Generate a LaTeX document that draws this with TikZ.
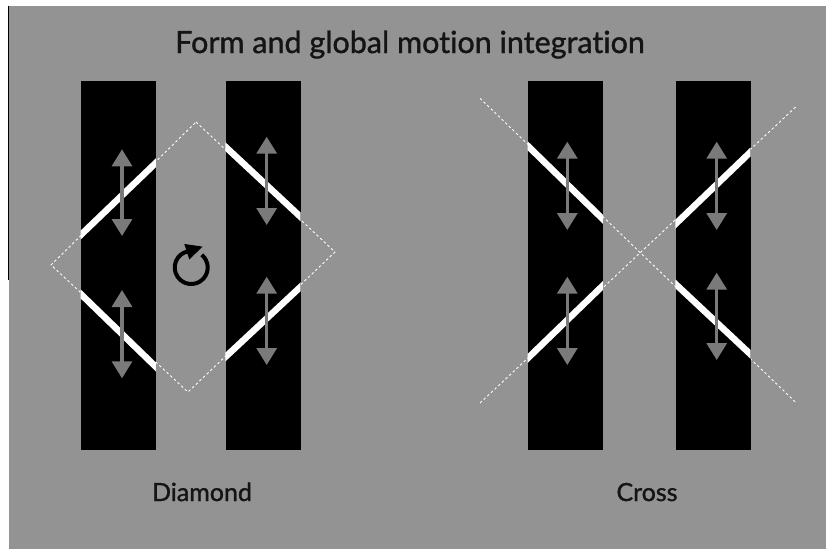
\documentclass[tikz,border=0pt]{standalone}
\usepackage{fontspec}
\setmainfont{Lato}[Ligatures=NoCommon,FakeBold=1.2]
\usetikzlibrary{arrows.meta}
\definecolor{bggray}{RGB}{147,147,147}
\definecolor{arrgray}{RGB}{122,122,122}
\begin{document}
\begin{tikzpicture}[x=1pt,y=-1pt,
  bar/.style={fill=black,draw=none,inner sep=0pt,minimum width=75pt,minimum height=369pt},
  band/.style={white,line width=6.5pt,shorten <=-6pt,shorten >=-6pt},
  guide/.style={white,line width=0.9pt,dash pattern=on 2.5pt off 2.5pt},
  motion/.style={arrgray,line width=3.3pt,{Triangle[length=17pt,width=20pt]}-{Triangle[length=17pt,width=20pt]}},
  rot/.style={black,line width=4pt,-{Triangle[length=17pt,width=15pt]}},
  title/.style={font=\fontsize{30.5}{34}\selectfont,text=black!92,anchor=base},
  lab/.style={font=\fontsize{25}{30}\selectfont,text=black!92,anchor=base}]
\useasboundingbox (0,0) rectangle (826,549);
\fill[white] (0,0) rectangle (826,549);
\fill[bggray] (9,6) rectangle (826,549);
\draw[black,line width=1.5pt] (8.5,6) -- (8.5,280);

% guides
\draw[guide] (196,122) -- (335,252) -- (188,392) -- (51,265) -- cycle;
\draw[guide] (480,98.3) -- (796.7,403.3);
\draw[guide] (480,403) -- (796.7,106);

% bars
\node[bar] (b1) at (118.2,265.5) {};
\node[bar] (b2) at (263,265.5) {};
\node[bar] (c1) at (565.2,265.5) {};
\node[bar] (c2) at (713,265.5) {};

% white bands
\begin{scope}
  \clip (b1.south west) rectangle (b1.north east);
  \draw[band] (80.7,235) -- (155.7,163);
  \draw[band] (80.7,294) -- (155.7,366.7);
\end{scope}
\begin{scope}
  \clip (b2.south west) rectangle (b2.north east);
  \draw[band] (225.7,147) -- (300.7,217);
  \draw[band] (225.7,356.7) -- (300.7,286.7);
\end{scope}
\begin{scope}
  \clip (c1.south west) rectangle (c1.north east);
  \draw[band] (527.7,145.8) -- (602.7,219);
  \draw[band] (527.7,358.3) -- (602.7,285.7);
\end{scope}
\begin{scope}
  \clip (c2.south west) rectangle (c2.north east);
  \draw[band] (675.5,224) -- (750.5,152);
  \draw[band] (675.5,284) -- (750.5,354.3);
\end{scope}

% motion arrows
\coordinate (m1a) at (122,149.3); \coordinate (m1b) at (122,236);
\coordinate (m2a) at (122,290);   \coordinate (m2b) at (122,378.3);
\coordinate (m3a) at (266.7,136.7); \coordinate (m3b) at (266.7,225);
\coordinate (m4a) at (266.7,276.7); \coordinate (m4b) at (266.7,365);
\coordinate (m5a) at (567.3,141.7); \coordinate (m5b) at (567.3,230);
\coordinate (m6a) at (567.3,276.7); \coordinate (m6b) at (567.3,365);
\coordinate (m7a) at (716.7,141.7); \coordinate (m7b) at (716.7,230);
\coordinate (m8a) at (716.7,272.7); \coordinate (m8b) at (716.7,360);
\foreach \i in {1,...,8} {\draw[motion] (m\i a) -- (m\i b);}

% rotation symbol
\coordinate (rc) at (191.2,267.5);
\coordinate (rtip) at (203,246.5);
\draw[rot] (rc) ++(-50:16.5) arc[start angle=-50,end angle=245,radius=16.5] -- (rtip);

% texts
\node[title] (ttl) at (410,53) {Form and global motion integration};
\node[lab] (ld) at (202,501) {Diamond};
\node[lab] (lc) at (647,501) {Cross};
\end{tikzpicture}
\end{document}
